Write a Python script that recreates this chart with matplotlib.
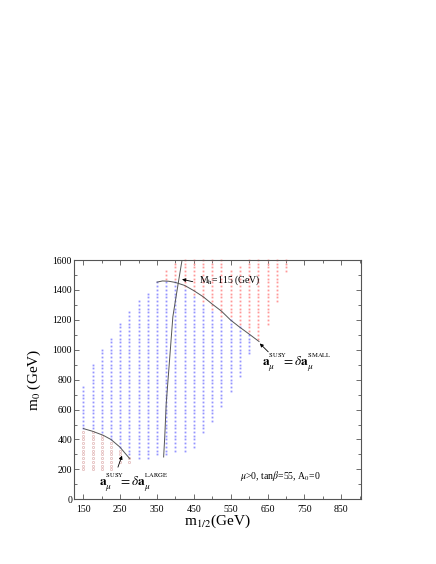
import numpy as np
import matplotlib
matplotlib.use("Agg")
import matplotlib.pyplot as plt
from matplotlib.ticker import MultipleLocator, FixedLocator

# colonnes du scan en m1/2 (GeV), pas de 25 GeV en m0
m12 = [150, 175, 200, 225, 250, 275, 300, 325, 350, 375, 400, 425,
       450, 475, 500, 525, 550, 575, 600, 625, 650, 675, 700]
# points autorises (bleu)
blue_lo = [475, 475, 450, 400, 350, 300, 275, 275, 300, 300, 325, 325,
           350, 450, 525, 625, 725, 825, 975, None, None, None, None]
blue_hi = [750, 900, 1000, 1075, 1175, 1250, 1325, 1375, 1450, 1450, 1450, 1400,
           1350, 1300, 1250, 1200, 1200, 1150, 1100, None, None, None, None]
# points exclus en haut (rouge)
red_lo = [None] * 9 + [1475, 1475, 1425, 1375, 1325, 1275, 1225, 1225, 1175,
                       1125, 1075, 1175, 1325, 1525]
red_hi = [None] * 9 + [1525, 1575, 1600, 1600, 1600, 1600, 1600, 1525, 1550,
                       1600, 1600, 1600, 1600, 1600]
# points exclus en bas a gauche (rose)
pink_lo = [200, 200, 200, 200, 250, 250] + [None] * 17
pink_hi = [450, 450, 425, 375, 325, 275] + [None] * 17
STEP = 25

# courbes
mh_x = [368, 371, 375, 382, 393, 409, 418]
mh_y = [283, 417, 640, 864, 1220, 1466, 1600]
small_x = [350, 365, 382, 400, 425, 450, 475, 500, 525, 550, 575, 600, 627]
small_y = [1452, 1460, 1458, 1450, 1430, 1395, 1355, 1305, 1258, 1198, 1150, 1105, 1055]
large_x = [150, 175, 204, 225, 249, 262, 276]
large_y = [473, 455, 428, 400, 350, 312, 272]

x_ticks = [150, 250, 350, 450, 550, 650, 750, 850]
y_ticks = [0, 200, 400, 600, 800, 1000, 1200, 1400, 1600]


def grid_points(lo, hi):
    xs, ys = [], []
    for x, a, b in zip(m12, lo, hi):
        if a is None:
            continue
        for y in np.arange(a, b + 1, STEP):
            xs.append(x)
            ys.append(y)
    return xs, ys


plt.rcParams['font.family'] = ['Liberation Serif', 'DejaVu Serif']
plt.rcParams['mathtext.fontset'] = 'stix'

fig = plt.figure(figsize=(4.36, 5.64), dpi=100)
ax = fig.add_axes([0.170, 0.1147, 0.659, 0.4243])

bx, by = grid_points(blue_lo, blue_hi)
rx, ry = grid_points(red_lo, red_hi)
px, py = grid_points(pink_lo, pink_hi)
ax.plot(bx, by, 's', ms=1.3, mew=0, color='#9494ff', clip_on=False)
ax.plot(rx, ry, 's', ms=1.3, mew=0, color='#ff9898', clip_on=False)
ax.plot(px, py, 'o', ms=1.6, mew=0.4, mfc='none', mec='#d8a0a0', clip_on=False)

line_kw = dict(color='#555555', lw=0.7)
ax.plot(mh_x, mh_y, **line_kw)
ax.plot(small_x, small_y, **line_kw)
ax.plot(large_x, large_y, **line_kw)

arrow = dict(arrowstyle='-|>', lw=0.6, color='black', mutation_scale=5,
             shrinkA=0, shrinkB=0)
ax.annotate('', xy=(418, 1471), xytext=(447, 1455), arrowprops=arrow)
ax.annotate('', xy=(629, 1042), xytext=(652, 986), arrowprops=arrow)
ax.annotate('', xy=(255, 292), xytext=(244, 215), arrowprops=arrow)

ax.text(465, 1450, r'M$_{\mathrm{h}}$=115 (GeV)', fontsize=7, va='baseline')

# a_mu^SUSY = delta a_mu : exposants imbriques pour les remonter
amu = (r'$\mathbf{a}_{\mu}^{{}^{\mathrm{SUSY}}}\!\!\!{=}\delta\mathbf{a}'
       r'_{\mu}^{{}^{\mathrm{%s}}}$')
ax.text(636, 891, amu % 'SMALL', fontsize=9.5, va='baseline', clip_on=False)
ax.text(193, 84, amu % 'LARGE', fontsize=9.5, va='baseline', clip_on=False)

ax.text(576, 136, r'$\mu$>0, tan$\beta$=55, A$_0$=0', fontsize=7, va='baseline')

ax.set_xlim(125, 905)
ax.set_ylim(0, 1600)
ax.xaxis.set_major_locator(FixedLocator(x_ticks))
ax.xaxis.set_minor_locator(FixedLocator([200, 300, 400, 500, 600, 700, 800, 900]))
ax.yaxis.set_major_locator(FixedLocator(y_ticks))
ax.yaxis.set_minor_locator(MultipleLocator(100))
ax.tick_params(which='both', direction='in', top=True, right=True,
               width=0.6, color='#555555', labelsize=7)
ax.tick_params(which='major', length=3.5)
ax.tick_params(which='minor', length=2)
ax.tick_params(axis='y', pad=1.5)
ax.tick_params(axis='x', pad=4)
for s in ax.spines.values():
    s.set_color('#555555')
    s.set_linewidth(0.8)

ax.set_xlabel(r'm$_{1/2}$(GeV)', fontsize=11)
ax.set_ylabel(r'm$_0$ (GeV)', fontsize=11)
ax.xaxis.set_label_coords(0.5, -0.055)
ax.yaxis.set_label_coords(-0.11, 0.5)

fig.savefig('out.png', dpi=100)
